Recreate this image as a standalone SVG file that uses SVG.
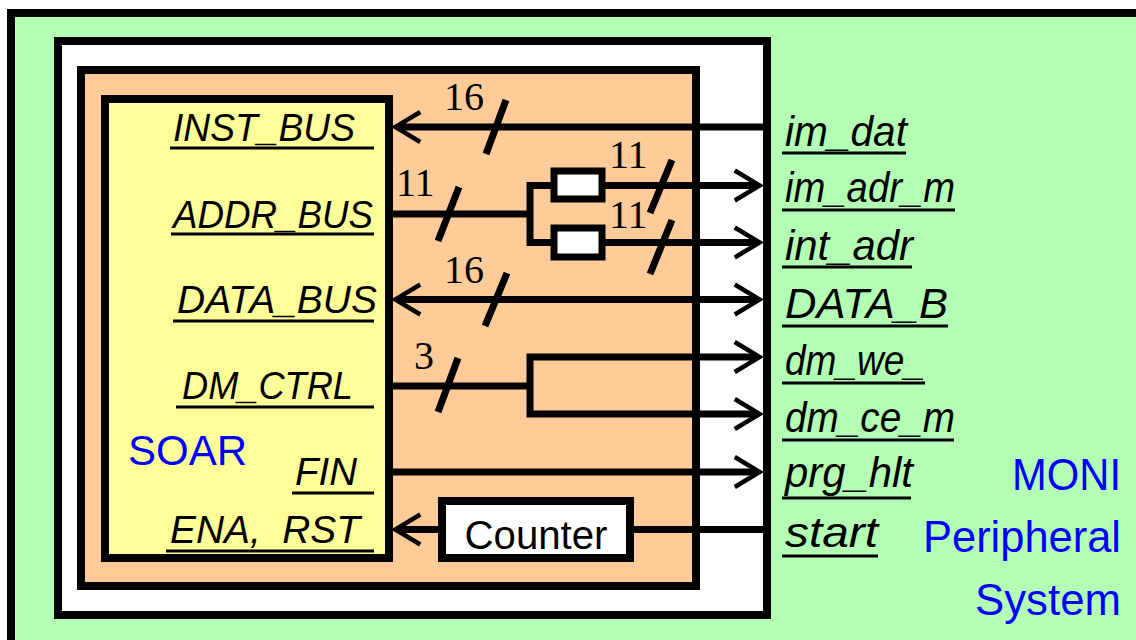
<svg xmlns="http://www.w3.org/2000/svg" width="1136" height="640" viewBox="0 0 1136 640">
<defs>
<style>
.frame{stroke:#000;stroke-width:8}
.wire{stroke:#000;stroke-width:7;fill:none}
.slash{stroke:#000;stroke-width:7}
.ul{stroke:#000;stroke-width:3}
.sig{font-family:"Liberation Sans",Arial,sans-serif;font-style:italic;fill:#000}
.num{font-family:"Liberation Serif","Times New Roman",serif;font-size:40px;fill:#000}
.blue{font-family:"Liberation Sans",Arial,sans-serif;fill:#0000ff}
</style>
<marker id="arr" markerUnits="userSpaceOnUse" markerWidth="30" markerHeight="30" viewBox="0 0 24 24" refX="17" refY="12" orient="auto-start-reverse" overflow="visible">
<path d="M0 0 L20 12 L0 24" fill="none" stroke="#000" stroke-width="3.5" stroke-linejoin="miter" stroke-miterlimit="10"/>
</marker>
</defs>
<rect x="0" y="0" width="1136" height="640" fill="#fff"/>
<g id="moni">
<rect class="frame" x="11" y="13" width="1200" height="700" fill="#b3ffb3"/>
<text class="blue" font-size="44" x="1121" y="490" text-anchor="end" textLength="109" lengthAdjust="spacingAndGlyphs">MONI</text>
<text class="blue" font-size="44" x="1121" y="552" text-anchor="end" textLength="198" lengthAdjust="spacingAndGlyphs">Peripheral</text>
<text class="blue" font-size="44" x="1121" y="615" text-anchor="end" textLength="146" lengthAdjust="spacingAndGlyphs">System</text>
</g>
<g id="board">
<rect class="frame" x="58" y="41" width="709" height="574" fill="#fff"/>
</g>
<g id="block">
<rect class="frame" x="81" y="70" width="615" height="516" fill="#ffcc99"/>
</g>
<g id="soar">
<rect class="frame" x="105" y="99" width="284" height="459" fill="#ffff99"/>
<text class="blue" font-size="42" x="128" y="465" textLength="119" lengthAdjust="spacingAndGlyphs">SOAR</text>
<g class="sig" font-size="39">
<text x="173" y="141" textLength="182" lengthAdjust="spacingAndGlyphs">INST_BUS</text>
<text x="173" y="228" textLength="200" lengthAdjust="spacingAndGlyphs">ADDR_BUS</text>
<text x="177" y="313" textLength="200" lengthAdjust="spacingAndGlyphs">DATA_BUS</text>
<text x="182" y="399" textLength="171" lengthAdjust="spacingAndGlyphs">DM_CTRL</text>
<text x="295" y="485" textLength="62" lengthAdjust="spacingAndGlyphs">FIN</text>
<text x="170" y="543" textLength="190" lengthAdjust="spacingAndGlyphs" xml:space="preserve">ENA,  RST</text>
</g>
<line class="ul" x1="170" y1="148" x2="374" y2="148"/>
<line class="ul" x1="171" y1="234" x2="374" y2="234"/>
<line class="ul" x1="173" y1="321" x2="374" y2="321"/>
<line class="ul" x1="176" y1="407" x2="374" y2="407"/>
<line class="ul" x1="292" y1="493" x2="374" y2="493"/>
<line class="ul" x1="166" y1="551" x2="374" y2="551"/>
</g>
<g id="reg1">
<rect x="554" y="171" width="48" height="28" fill="#fff" stroke="#000" stroke-width="7"/>
</g>
<g id="reg2">
<rect x="554" y="228" width="48" height="29" fill="#fff" stroke="#000" stroke-width="7"/>
</g>
<g id="counter">
<rect x="442" y="501" width="188" height="57" fill="#fff" stroke="#000" stroke-width="8"/>
<text x="536" y="549" font-family="'Liberation Sans',Arial,sans-serif" font-size="40" text-anchor="middle" textLength="143" lengthAdjust="spacingAndGlyphs">Counter</text>
</g>
<g id="ports" class="sig" font-size="42">
<text x="785" y="146" textLength="122" lengthAdjust="spacingAndGlyphs">im_dat</text>
<text x="785" y="202" textLength="170" lengthAdjust="spacingAndGlyphs">im_adr_m</text>
<text x="785" y="260" textLength="128" lengthAdjust="spacingAndGlyphs">int_adr</text>
<text x="785" y="318" textLength="163" lengthAdjust="spacingAndGlyphs">DATA_B</text>
<text x="785" y="375" textLength="140" lengthAdjust="spacingAndGlyphs">dm_we_</text>
<text x="785" y="432" textLength="170" lengthAdjust="spacingAndGlyphs">dm_ce_m</text>
<text x="785" y="487" textLength="128" lengthAdjust="spacingAndGlyphs">prg_hlt</text>
<text x="785" y="547" textLength="93" lengthAdjust="spacingAndGlyphs">start</text>
</g>
<g id="port-underlines">
<line class="ul" x1="782" y1="153" x2="906" y2="153"/>
<line class="ul" x1="782" y1="210" x2="955" y2="210"/>
<line class="ul" x1="782" y1="267" x2="912" y2="267"/>
<line class="ul" x1="782" y1="326" x2="948" y2="326"/>
<line class="ul" x1="782" y1="383" x2="925" y2="383"/>
<line class="ul" x1="782" y1="440" x2="954" y2="440"/>
<line class="ul" x1="782" y1="498" x2="911" y2="498"/>
<line class="ul" x1="782" y1="556" x2="878" y2="556"/>
</g>
<g id="connectors">
<line class="wire" x1="767" y1="127" x2="399" y2="127" marker-end="url(#arr)"/>
<line class="wire" x1="393" y1="214" x2="530" y2="214"/>
<polyline class="wire" points="554,185.5 530,185.5 530,242.5 554,242.5"/>
<line class="wire" x1="602" y1="185.5" x2="756" y2="185.5" marker-end="url(#arr)"/>
<line class="wire" x1="602" y1="242.5" x2="756" y2="242.5" marker-end="url(#arr)"/>
<line class="wire" x1="399" y1="299.5" x2="756" y2="299.5" marker-start="url(#arr)" marker-end="url(#arr)"/>
<line class="wire" x1="393" y1="386" x2="530" y2="386"/>
<polyline class="wire" points="756,357 530,357 530,414 756,414" marker-start="url(#arr)" marker-end="url(#arr)"/>
<line class="wire" x1="393" y1="472" x2="756" y2="472" marker-end="url(#arr)"/>
<line class="wire" x1="767" y1="529.5" x2="634" y2="529.5"/>
<line class="wire" x1="438" y1="529.5" x2="399" y2="529.5" marker-end="url(#arr)"/>
<line class="slash" x1="486" y1="154" x2="506" y2="100"/>
<line class="slash" x1="438" y1="241" x2="459" y2="187"/>
<line class="slash" x1="650" y1="213" x2="672" y2="160"/>
<line class="slash" x1="650" y1="274" x2="672" y2="220"/>
<line class="slash" x1="485" y1="326" x2="507" y2="273"/>
<line class="slash" x1="438" y1="412" x2="458" y2="358"/>
<text class="num" x="444" y="110">16</text>
<text class="num" x="396" y="196">11</text>
<text class="num" x="609" y="168">11</text>
<text class="num" x="609" y="228">11</text>
<text class="num" x="444" y="283">16</text>
<text class="num" x="414" y="369">3</text>
</g>
</svg>
